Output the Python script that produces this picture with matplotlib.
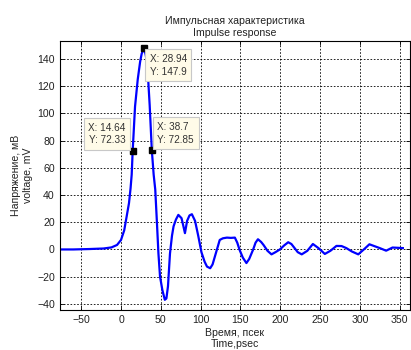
import matplotlib.pyplot as plt

# impulse response, picoseconds vs millivolts
time_ps = [-76, -60, -40, -22, -12, -5, 0, 4, 7, 10, 12, 13.4, 14.64, 17.6, 21, 24, 26, 28.94,
           31, 33, 36, 38.7, 41, 43, 45, 47, 49, 52, 55, 57, 59, 61.5, 64, 66, 69, 72, 76, 78,
           80.3, 83, 86, 89, 93, 97, 101, 105, 108, 112, 115, 118, 121, 124, 128, 133, 138, 143,
           146, 149, 153, 157.5, 161, 166, 169, 172, 176, 179, 184, 189, 194, 199.5, 205, 210,
           214, 218, 222, 227, 234, 241, 248, 256, 263, 270.6, 277, 283, 290, 298, 305, 312,
           318, 325, 333, 341, 348, 354]
voltage_mv = [0, 0, 0.3, 0.7, 1.5, 3.3, 7, 14, 24, 34, 45, 55, 72.33, 105, 125, 138, 144, 147.9,
              143, 136, 106, 72.85, 55, 44, 21, -3, -20, -30, -37, -36, -27, -3, 10, 17, 22, 25.4,
              23, 18, 12, 21, 25, 25.9, 21, 10, -2, -9, -12.6, -13.8, -11, -5, 1, 7, 8.2, 8.7, 8.5,
              8.7, 5, -0.4, -6, -10, -7, 0, 5, 7.5, 5.5, 3.3, -1, -3.6, -2, 0, 3, 5.3, 4, 1, -2,
              -3.6, -1, 4, 1, -3.3, -1, 2.6, 2.5, 1, -1.5, -3.6, 0, 3.8, 2.5, 1, -0.9, 1.4, 1.2, 1]

# data cursor points: (x, y, label offset in points, alignment)
tips = [(28.94, 147.9, (4, -4), 'left', 'top'),
        (14.64, 72.33, (-5, 4), 'right', 'bottom'),
        (38.7, 72.85, (4, 4), 'left', 'bottom')]

plt.rcParams['font.family'] = ['Liberation Sans', 'DejaVu Sans']
fig = plt.figure(figsize=(4.11, 3.5), dpi=100)
ax = fig.add_axes([0.1453, 0.1143, 0.8523, 0.7677])

ax.plot(time_ps, voltage_mv, color='#0000ff', lw=1.6)

for x, y, off, ha, va in tips:
    ax.plot(x, y, 's', color='black', ms=5, zorder=5)
    ax.annotate(f'X: {x:g}\nY: {y:g}', (x, y), xytext=off, textcoords='offset points',
                ha=ha, va=va, fontsize=7.2, color='#333333', linespacing=1.35,
                bbox=dict(boxstyle='square,pad=0.45', fc='#fffbe8', ec='#c8c8c8', lw=0.8),
                zorder=6)

ax.set_xlim(-77, 363)
ax.set_ylim(-44.5, 153)
ax.set_xticks(range(-50, 351, 50))
ax.set_yticks(range(-40, 141, 20))
ax.tick_params(direction='in', labelsize=7.6, length=3, width=0.6, colors='black',
               top=True, right=True, labelcolor='#222222')
ax.grid(True, color='black', linestyle=(0, (2, 2)), lw=0.6)
for s in ax.spines.values():
    s.set_linewidth(0.8)

ax.set_title('Импульсная характеристика\nImpulse response', fontsize=7.6, pad=4,
             color='#222222')
ax.set_xlabel('Время, псек\nTime,psec', fontsize=7.6, labelpad=2, color='#222222')
ax.set_ylabel('Напряжение, мВ\nvoltage, mV', fontsize=7.6, labelpad=3, color='#222222')

fig.savefig('out.png', dpi=100, facecolor='white')
